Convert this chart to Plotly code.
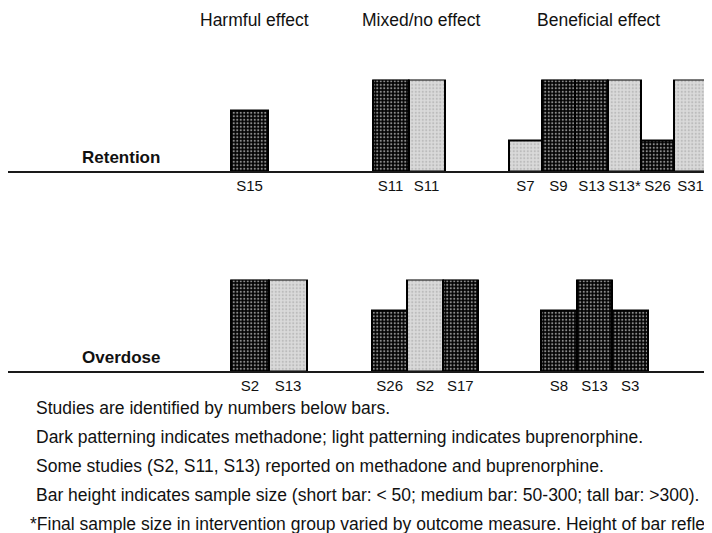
import plotly.graph_objects as go

# ---------------- data ----------------
effect_groups = ["Harmful effect", "Mixed/no effect", "Beneficial effect"]
outcomes = ["Retention", "Overdose"]

retention_studies = ["S15", "S11", "S11", "S7", "S9", "S13", "S13*", "S26", "S31"]
retention_effect = ["Harmful effect", "Mixed/no effect", "Mixed/no effect",
                    "Beneficial effect", "Beneficial effect", "Beneficial effect",
                    "Beneficial effect", "Beneficial effect", "Beneficial effect"]
retention_drug = ["Methadone", "Methadone", "Buprenorphine", "Buprenorphine", "Methadone",
                  "Methadone", "Buprenorphine", "Methadone", "Buprenorphine"]
retention_size = [2, 3, 3, 1, 3, 3, 3, 1, 3]   # 1 short (<50), 2 medium (50-300), 3 tall (>300)

overdose_studies = ["S2", "S13", "S26", "S2", "S17", "S8", "S13", "S3"]
overdose_effect = ["Harmful effect", "Harmful effect", "Mixed/no effect", "Mixed/no effect",
                   "Mixed/no effect", "Beneficial effect", "Beneficial effect", "Beneficial effect"]
overdose_drug = ["Methadone", "Buprenorphine", "Methadone", "Buprenorphine", "Methadone",
                 "Methadone", "Methadone", "Methadone"]
overdose_size = [3, 3, 2, 3, 3, 2, 3, 2]

footnotes = [
    "Studies are identified by numbers below bars.",
    "Dark patterning indicates methadone; light patterning indicates buprenorphine.",
    "Some studies (S2, S11, S13) reported on methadone and buprenorphine.",
    "Bar height indicates sample size (short bar: < 50; medium bar: 50-300; tall bar: >300).",
    "*Final sample size in intervention group varied by outcome measure. Height of bar reflects the largest sample size reported.",
]

# ---------------- layout constants ----------------
W, H = 712, 533
OFF = 8            # page body margin: figure is drawn at (8, 8) in the window
GROUP_START = {
    "Retention": {"Harmful effect": 231, "Mixed/no effect": 372.5, "Beneficial effect": 509},
    "Overdose": {"Harmful effect": 231, "Mixed/no effect": 372, "Beneficial effect": 541},
}
GROUP_BAR_W = {
    "Retention": {"Harmful effect": 37, "Mixed/no effect": 36, "Beneficial effect": 33},
    "Overdose": {"Harmful effect": 38, "Mixed/no effect": 35.3, "Beneficial effect": 35.7},
}
BASELINE_PX = {"Retention": 171, "Overdose": 371}
UNIT_PX = 30.5
FONT = "Liberation Sans, Arial, sans-serif"

STYLE = {
    "Methadone": dict(color="#000000", bg="#030303", fg="#8c8c8c"),
    "Buprenorphine": dict(color="#d6d6d6", bg="#dadada", fg="#bcbcbc"),
}


def px_x(x):
    return (x - OFF) / W


def px_y(y):
    return 1 - (y - OFF) / H


def positions(row, effects):
    xs, ws, counters = [], [], {}
    for e in effects:
        i = counters.get(e, 0)
        w = GROUP_BAR_W[row][e]
        xs.append(GROUP_START[row][e] + (i + 0.5) * w)
        ws.append(w)
        counters[e] = i + 1
    return xs, ws


rows = {
    "Retention": (retention_studies, retention_effect, retention_drug, retention_size),
    "Overdose": (overdose_studies, overdose_effect, overdose_drug, overdose_size),
}

fig = go.Figure()
axis_ids = {"Retention": ("x", "y"), "Overdose": ("x2", "y2")}

for row, (studies, effects, drugs, sizes) in rows.items():
    xs, ws = positions(row, effects)
    xa, ya = axis_ids[row]
    for drug in ["Methadone", "Buprenorphine"]:
        idx = [i for i, d in enumerate(drugs) if d == drug]
        st = STYLE[drug]
        fig.add_trace(go.Bar(
            x=[xs[i] for i in idx],
            y=[sizes[i] for i in idx],
            width=[ws[i] for i in idx],
            xaxis=xa, yaxis=ya,
            marker=dict(
                color=st["color"],
                line=dict(color="#000000", width=2),
                pattern=dict(shape=".", bgcolor=st["bg"], fgcolor=st["fg"],
                             size=3.5, solidity=0.3, fillmode="replace"),
            ),
            hoverinfo="skip",
            showlegend=False,
        ))

    axis_common = dict(
        range=[OFF, OFF + W], domain=[0, 1], showgrid=False, zeroline=False,
        showline=True, linewidth=2, linecolor="#1a1a1a", ticks="",
        tickvals=xs, ticktext=studies, ticklabeloverflow="allow",
        tickfont=dict(family=FONT, size=15, color="#111111"),
        fixedrange=True,
    )
    base = BASELINE_PX[row]
    ydom = [px_y(base), px_y(base - 3 * UNIT_PX)]
    yaxis_common = dict(range=[0, 3], domain=ydom, visible=False, fixedrange=True)
    if row == "Retention":
        fig.update_layout(xaxis=dict(anchor="y", **axis_common),
                          yaxis=dict(anchor="x", **yaxis_common))
    else:
        fig.update_layout(xaxis2=dict(anchor="y2", **axis_common),
                          yaxis2=dict(anchor="x2", **yaxis_common))

annotations = []
title_x = {"Harmful effect": 254, "Mixed/no effect": 421, "Beneficial effect": 598}
for g in effect_groups:
    annotations.append(dict(text=g, x=px_x(title_x[g]), y=px_y(20), xref="paper", yref="paper",
                            xanchor="center", yanchor="middle", showarrow=False,
                            font=dict(family=FONT, size=17.5, color="#111111")))
row_label_y = {"Retention": 157, "Overdose": 357}
for r in outcomes:
    annotations.append(dict(text="<b>%s</b>" % r, x=px_x(80), y=px_y(row_label_y[r]),
                            xref="paper", yref="paper", xanchor="left", yanchor="middle",
                            showarrow=False, font=dict(family=FONT, size=17, color="#111111")))
for k, t in enumerate(footnotes):
    xl = 28 if t.startswith("*") else 34
    annotations.append(dict(text=t, x=px_x(xl), y=px_y(408 + 29 * k), xref="paper", yref="paper",
                            xanchor="left", yanchor="middle", showarrow=False,
                            font=dict(family=FONT, size=17.5, color="#111111")))

fig.update_layout(
    width=W, height=H, margin=dict(l=0, r=0, t=0, b=0),
    paper_bgcolor="white", plot_bgcolor="white",
    barmode="overlay", bargap=0, showlegend=False,
    annotations=annotations,
)

fig.write_html("out.html")
